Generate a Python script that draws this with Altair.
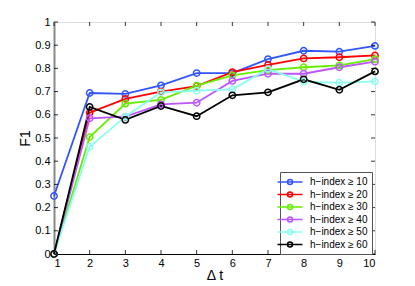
import altair as alt
import pandas as pd

dt = [1, 2, 3, 4, 5, 6, 7, 8, 9, 10]
series_names = ["h−index ≥ 10", "h−index ≥ 20", "h−index ≥ 30",
                "h−index ≥ 40", "h−index ≥ 50", "h−index ≥ 60"]
h10 = [0.25, 0.694, 0.690, 0.727, 0.780, 0.780, 0.840, 0.876, 0.872, 0.897]
h20 = [0.0, 0.609, 0.669, 0.700, 0.724, 0.784, 0.815, 0.843, 0.848, 0.856]
h30 = [0.0, 0.504, 0.648, 0.664, 0.726, 0.770, 0.793, 0.805, 0.813, 0.840]
h40 = [0.0, 0.585, 0.592, 0.645, 0.652, 0.746, 0.777, 0.777, 0.805, 0.829]
h50 = [0.0, 0.462, 0.592, 0.697, 0.704, 0.710, 0.797, 0.743, 0.738, 0.744]
h60 = [0.0, 0.634, 0.578, 0.638, 0.594, 0.684, 0.697, 0.753, 0.708, 0.787]
colors = ["#3355ff", "#ff0000", "#66ee00", "#bb55ff", "#88ffee", "#000000"]
x_ticks = [1, 2, 3, 4, 5, 6, 7, 8, 9, 10]
y_ticks = [0, 0.1, 0.2, 0.3, 0.4, 0.5, 0.6, 0.7, 0.8, 0.9, 1]

rows = []
for name, vals in zip(series_names, [h10, h20, h30, h40, h50, h60]):
    for x, v in zip(dt, vals):
        rows.append({"dt": x, "F1": v, "series": name})
df = pd.DataFrame(rows)

W, H = 321, 232
FONT = "Liberation Sans"

xscale = alt.Scale(domain=[1, 10], nice=False, zero=False)
yscale = alt.Scale(domain=[0, 1], nice=False)

xaxis = alt.Axis(values=x_ticks, title="Δ t", tickSize=0,
                 labelFont=FONT, labelFontSize=11, labelColor="#000",
                 labelOverlap=False,
                 titleFont=FONT, titleFontSize=14, titleFontWeight="normal",
                 titleColor="#000", titlePadding=0,
                 domainColor="#000", grid=False, labelPadding=3)
yaxis = alt.Axis(values=y_ticks, title="F1", tickSize=0,
                 labelExpr="datum.value == 0 ? '0' : datum.value == 1 ? '1' : format(datum.value, '.1f')",
                 labelOverlap=False,
                 labelFont=FONT, labelFontSize=11, labelColor="#000",
                 titleFont=FONT, titleFontSize=14, titleFontWeight="normal",
                 titleColor="#000", titlePadding=2,
                 domainColor="#888", domainWidth=2, grid=False,
                 labelPadding=4)

legend_symbol = ("M-2.5,0H2.5M-0.5,0A0.5,0.5 0 1,0 0.5,0"
                 "A0.5,0.5 0 1,0 -0.5,0")

color = alt.Color(
    "series:N",
    scale=alt.Scale(domain=series_names, range=colors),
    legend=alt.Legend(
        title=None, orient="none", legendX=226, legendY=150,
        symbolType=legend_symbol, symbolSize=100, symbolStrokeWidth=1.5,
        symbolFillColor="transparent", symbolOpacity=1,
        labelFont=FONT, labelFontSize=10, labelColor="#000",
        labelOffset=14, rowPadding=0.5,
        strokeColor="#555", fillColor="white", padding=4,
    ),
)

base = alt.Chart(df).encode(
    x=alt.X("dt:Q", scale=xscale, axis=xaxis),
    y=alt.Y("F1:Q", scale=yscale, axis=yaxis),
    color=color,
)

lines = base.mark_line(strokeWidth=1.8)
points = base.mark_point(shape="circle", size=40, filled=False, strokeWidth=1.5,
                         opacity=1)

xt = pd.DataFrame({"t": x_ticks})
yt = pd.DataFrame({"t": y_ticks})
tick_bottom = alt.Chart(xt).mark_rule(color="#000", strokeWidth=0.8).encode(
    x=alt.X("t:Q", scale=xscale, axis=xaxis), y=alt.value(H), y2=alt.value(H - 4))
tick_top = alt.Chart(xt).mark_rule(color="#000", strokeWidth=0.8).encode(
    x=alt.X("t:Q", scale=xscale, axis=xaxis), y=alt.value(0), y2=alt.value(4))
tick_left = alt.Chart(yt).mark_rule(color="#000", strokeWidth=0.8).encode(
    y=alt.Y("t:Q", scale=yscale, axis=yaxis), x=alt.value(0), x2=alt.value(4))
tick_right = alt.Chart(yt).mark_rule(color="#000", strokeWidth=0.8).encode(
    y=alt.Y("t:Q", scale=yscale, axis=yaxis), x=alt.value(W), x2=alt.value(W - 4))

chart = alt.layer(lines, points, tick_bottom, tick_top, tick_left, tick_right).properties(
    width=W, height=H,
    autosize=alt.AutoSizeParams(type="none"),
    padding={"left": 46, "top": 14, "right": 32, "bottom": 30},
).configure_view(stroke="#000", strokeWidth=1.2).configure(background="white")

chart.save("out.html", embed_options={"renderer": "svg", "actions": False})
